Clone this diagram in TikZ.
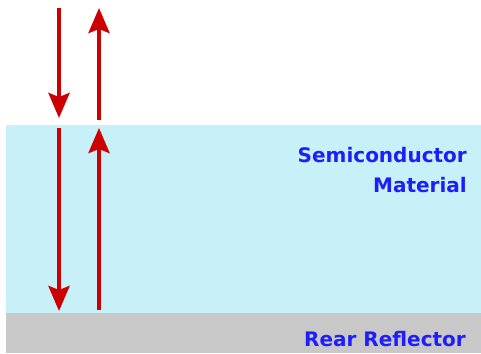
\documentclass[tikz,border=0pt]{standalone}
\usepackage{fontspec}
\setmainfont{DejaVu Sans}
\usetikzlibrary{arrows.meta}
\definecolor{semiblue}{RGB}{200,240,249}
\definecolor{reargray}{RGB}{200,200,200}
\definecolor{arrowred}{RGB}{204,0,0}
\definecolor{textblue}{RGB}{30,30,250}
\tikzset{
  ray/.style={draw=arrowred, line width=4pt, -{Stealth[width=21pt,length=25pt,inset=4pt]}},
  label/.style={text=textblue, font=\fontsize{20}{24}\selectfont\bfseries, anchor=east, inner sep=0pt}
}
\begin{document}
\begin{tikzpicture}[x=1pt,y=-1pt]
\useasboundingbox (0,0) rectangle (481,353);
\fill[white] (0,0) rectangle (481,353);
\fill[semiblue] (6,125) rectangle (481,313);
\fill[reargray] (6,313) rectangle (481,353);
% coordinates
\coordinate (a1) at (59,8);
\coordinate (a2) at (59,118);
\coordinate (a3) at (59,128);
\coordinate (a4) at (59,311);
\coordinate (b1) at (99,120);
\coordinate (b2) at (99,8);
\coordinate (b3) at (99,310);
\coordinate (b4) at (99,128);
\draw[ray] (a1) -- (a2);
\draw[ray] (a3) -- (a4);
\draw[ray] (b1) -- (b2);
\draw[ray] (b3) -- (b4);
\node[label] (semi) at (467,155) {Semiconductor};
\node[label] (mat) at (467,185) {Material};
\node[label] (rear) at (466,339) {Rear Reflector};
\end{tikzpicture}
\end{document}
